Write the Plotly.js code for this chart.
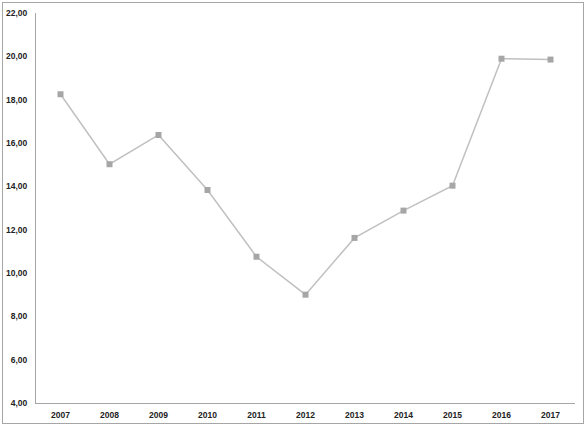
<!DOCTYPE html>
<html>
<head>
<meta charset="utf-8">
<script src="https://cdn.plot.ly/plotly-3.0.1.min.js"></script>
<style>
html,body{margin:0;padding:0;background:#fff;}
#wrap{position:relative;width:588px;height:430px;}
#chart{width:588px;height:430px;}
#frame{position:absolute;left:2px;top:2px;width:580px;height:420px;border:1px solid #a6a6a6;pointer-events:none;}
</style>
</head>
<body>
<div id="wrap"><div id="chart"></div><div id="frame"></div></div>
<script>
const years = ['2007','2008','2009','2010','2011','2012','2013','2014','2015','2016','2017'];
const values = [18.25, 15.02, 16.37, 13.83, 10.75, 9.00, 11.62, 12.88, 14.03, 19.89, 19.85];
const yTicks = [4,6,8,10,12,14,16,18,20,22];
const yTickText = yTicks.map(v => v.toFixed(2).replace('.', ','));

const font = {family: 'Liberation Sans, Arial, sans-serif', size: 8.5, color: '#222'};

Plotly.newPlot('chart', [{
  x: years,
  y: values,
  type: 'scatter',
  mode: 'lines+markers',
  line: {color: '#c0c0c0', width: 1.5},
  marker: {symbol: 'square', size: 6, color: '#a6a6a6'}
}], {
  width: 588, height: 430,
  margin: {l: 36, r: 13, t: 13, b: 27},
  paper_bgcolor: '#fff', plot_bgcolor: '#fff',
  showlegend: false,
  font: font,
  xaxis: {
    type: 'category',
    range: [-0.5, years.length - 0.5],
    showline: true, linecolor: '#a6a6a6', linewidth: 1,
    showgrid: false, zeroline: false, ticks: '',
    tickfont: {family: font.family, size: 8.5, color: '#222', weight: 'bold'},
    ticklabelstandoff: 4
  },
  yaxis: {
    range: [4, 22],
    tickvals: yTicks, ticktext: yTickText,
    showline: true, linecolor: '#a6a6a6', linewidth: 1,
    showgrid: false, zeroline: false, ticks: '',
    tickfont: {family: font.family, size: 8.5, color: '#222', weight: 'bold'},
    ticklabelstandoff: 6
  }
}, {displayModeBar: false, staticPlot: true});
</script>
</body>
</html>
